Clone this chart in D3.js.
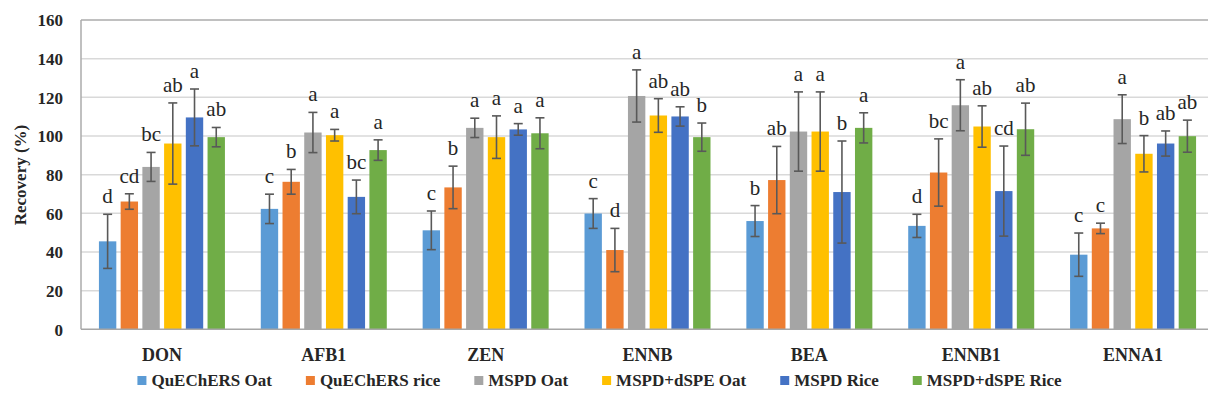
<!DOCTYPE html>
<html>
<head>
<meta charset="utf-8">
<script src="https://cdn.jsdelivr.net/npm/d3@7"></script>
<style>
  body { margin: 0; background: #fff; }
  svg { display: block; }
  svg text { font-family: "Liberation Serif", "DejaVu Serif", serif; }
</style>
</head>
<body>
<svg id="chart" width="1208" height="403"></svg>
<script>
const categories = ["DON", "AFB1", "ZEN", "ENNB", "BEA", "ENNB1", "ENNA1"];
const seriesNames = ["QuEChERS Oat", "QuEChERS rice", "MSPD Oat", "MSPD+dSPE Oat", "MSPD Rice", "MSPD+dSPE Rice"];
const seriesColors = ["#5B9BD5", "#ED7D31", "#A5A5A5", "#FFC000", "#4472C4", "#70AD47"];

// mean recovery (%) per series, in category order
const quechersOat  = [45.5, 62.3, 51.2, 59.9, 56.0, 53.5, 38.6];
const quechersRice = [66.1, 76.3, 73.4, 41.0, 77.2, 81.1, 52.2];
const mspdOat      = [84.0, 101.8, 104.2, 120.7, 102.3, 115.9, 108.7];
const mspdDspeOat  = [96.1, 100.4, 99.4, 110.6, 102.3, 104.9, 90.8];
const mspdRice     = [109.6, 68.5, 103.4, 110.1, 71.0, 71.5, 96.1];
const mspdDspeRice = [99.4, 92.7, 101.4, 99.4, 104.2, 103.5, 99.9];

// standard deviations
const sdQuechersOat  = [14.0, 7.6, 10.0, 7.7, 8.0, 6.0, 11.2];
const sdQuechersRice = [4.0, 6.4, 11.0, 11.2, 17.4, 17.4, 2.7];
const sdMspdOat      = [7.5, 10.4, 5.0, 13.5, 20.5, 13.2, 12.6];
const sdMspdDspeOat  = [21.0, 3.0, 11.0, 8.7, 20.5, 10.7, 9.4];
const sdMspdRice     = [14.7, 8.7, 3.0, 5.0, 26.4, 23.3, 6.5];
const sdMspdDspeRice = [5.0, 5.3, 8.0, 7.3, 7.8, 13.5, 8.3];

// significance letters
const lettersQuechersOat  = ["d", "c", "c", "c", "b", "d", "c"];
const lettersQuechersRice = ["cd", "b", "b", "d", "ab", "bc", "c"];
const lettersMspdOat      = ["bc", "a", "a", "a", "a", "a", "a"];
const lettersMspdDspeOat  = ["ab", "a", "a", "ab", "a", "ab", "b"];
const lettersMspdRice     = ["a", "bc", "a", "ab", "b", "cd", "ab"];
const lettersMspdDspeRice = ["ab", "a", "a", "b", "a", "ab", "ab"];

const yTicks = [0, 20, 40, 60, 80, 100, 120, 140, 160];

const values = [quechersOat, quechersRice, mspdOat, mspdDspeOat, mspdRice, mspdDspeRice];
const sds = [sdQuechersOat, sdQuechersRice, sdMspdOat, sdMspdDspeOat, sdMspdRice, sdMspdDspeRice];
const letters = [lettersQuechersOat, lettersQuechersRice, lettersMspdOat, lettersMspdDspeOat, lettersMspdRice, lettersMspdDspeRice];

const data = [];
categories.forEach((c, ci) => {
  seriesNames.forEach((s, si) => {
    data.push({cat: c, series: s, si: si, v: values[si][ci], sd: sds[si][ci], letter: letters[si][ci]});
  });
});

const svg = d3.select("#chart");

const plot = {left: 81, right: 1214, top: 20, bottom: 329.3};

const x0 = d3.scaleBand().domain(categories).range([plot.left, plot.right]).padding(0);
const groupW = 126;
const x1 = d3.scaleBand().domain(seriesNames).range([0, groupW]).paddingInner(0.2);
const groupOff = (x0.bandwidth() - groupW) / 2;
const y = d3.scaleLinear().domain([0, 160]).range([plot.bottom, plot.top]);

// gridlines
svg.append("g").selectAll("line").data(yTicks.filter(t => t > 0 && t < 160)).join("line")
  .attr("x1", plot.left).attr("x2", plot.right)
  .attr("y1", d => y(d)).attr("y2", d => y(d))
  .attr("stroke", "#D9D9D9").attr("stroke-width", 1.5);

// top border and left border
svg.append("line").attr("x1", plot.left).attr("x2", plot.right).attr("y1", y(160)).attr("y2", y(160))
  .attr("stroke", "#ABABAB").attr("stroke-width", 1.5);
svg.append("line").attr("x1", plot.left).attr("x2", plot.left).attr("y1", y(160)).attr("y2", y(0))
  .attr("stroke", "#ABABAB").attr("stroke-width", 1.5);

// bars
svg.append("g").selectAll("rect").data(data).join("rect")
  .attr("x", d => x0(d.cat) + groupOff + x1(d.series))
  .attr("width", x1.bandwidth())
  .attr("y", d => y(d.v))
  .attr("height", d => y(0) - y(d.v))
  .attr("fill", d => seriesColors[d.si]);

// x axis line
svg.append("line").attr("x1", plot.left).attr("x2", plot.right).attr("y1", y(0)).attr("y2", y(0))
  .attr("stroke", "#A6A6A6").attr("stroke-width", 1.5);

// error bars
const eb = svg.append("g").attr("stroke", "#595959").attr("stroke-width", 1.6);
data.forEach(d => {
  const cx = x0(d.cat) + groupOff + x1(d.series) + x1.bandwidth() / 2;
  const yt = y(d.v + d.sd), yb = y(d.v - d.sd);
  eb.append("line").attr("x1", cx).attr("x2", cx).attr("y1", yt).attr("y2", yb);
  eb.append("line").attr("x1", cx - 4.5).attr("x2", cx + 4.5).attr("y1", yt).attr("y2", yt);
  eb.append("line").attr("x1", cx - 4.5).attr("x2", cx + 4.5).attr("y1", yb).attr("y2", yb);
});

// letters
svg.append("g").selectAll("text").data(data).join("text")
  .attr("x", d => x0(d.cat) + groupOff + x1(d.series) + x1.bandwidth() / 2)
  .attr("y", d => y(d.v + d.sd) - 11)
  .attr("text-anchor", "middle")
  .style("font-size", "21px").attr("fill", "#262626")
  .text(d => d.letter);

// y axis
const yAxis = d3.axisLeft(y).tickValues(yTicks).tickSize(0).tickPadding(0);
const gy = svg.append("g").attr("transform", `translate(63,0)`).call(yAxis);
gy.attr("font-family", null).attr("font-size", null);
gy.select(".domain").remove();
gy.selectAll("text").style("font-size", "17px").style("font-weight", "bold")
  .attr("fill", "#262626").attr("dy", "0.34em");

// x axis labels
const xAxis = d3.axisBottom(x0).tickSize(0).tickPadding(0);
const gx = svg.append("g").attr("transform", `translate(0,${y(0)})`).call(xAxis);
gx.attr("font-family", null).attr("font-size", null);
gx.select(".domain").remove();
gx.selectAll("text").style("font-size", "18px").style("font-weight", "bold")
  .attr("fill", "#262626").attr("dy", null).attr("y", 32);

// y title
svg.append("text")
  .attr("transform", `translate(26,175) rotate(-90)`)
  .attr("text-anchor", "middle")
  .style("font-size", "17px").style("font-weight", "bold").attr("fill", "#262626")
  .text("Recovery (%)");

// legend
const lg = svg.append("g");
const gap = 34;
let cursor = 0;
seriesNames.forEach((s, i) => {
  const g = lg.append("g").attr("transform", `translate(${cursor},0)`);
  g.append("rect").attr("x", 0).attr("y", -10).attr("width", 9).attr("height", 9).attr("fill", seriesColors[i]);
  const t = g.append("text").attr("x", 14).attr("y", 0)
    .style("font-size", "17px").style("font-weight", "bold").attr("fill", "#262626")
    .text(s);
  const w = t.node().getComputedTextLength();
  cursor += 14 + w + gap;
});
const totalW = cursor - gap;
lg.attr("transform", `translate(${599.5 - totalW / 2},386)`);
</script>
</body>
</html>
